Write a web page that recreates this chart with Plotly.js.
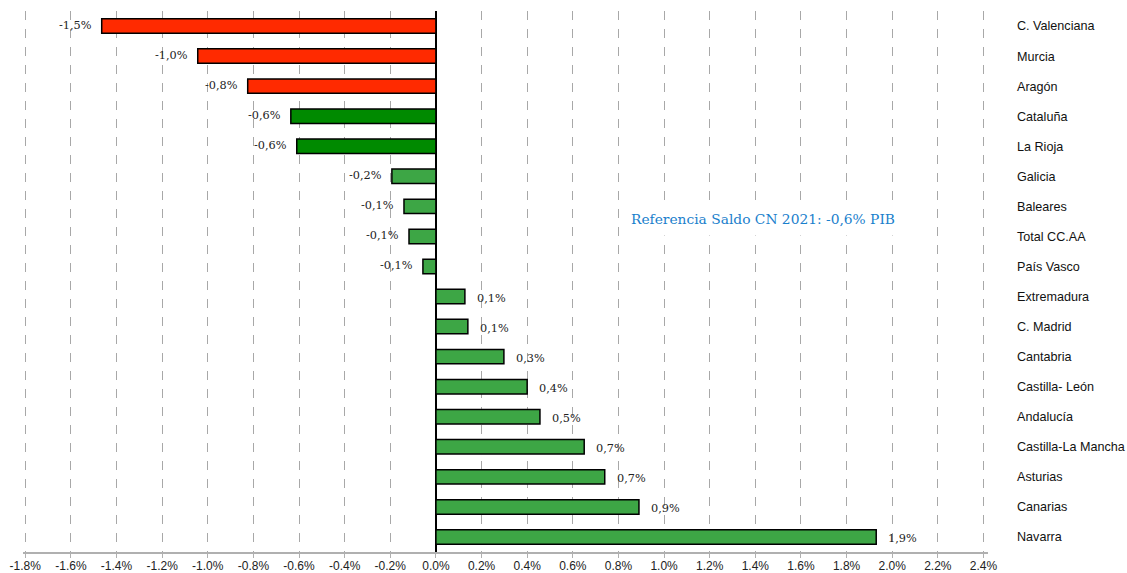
<!DOCTYPE html>
<html>
<head>
<meta charset="utf-8">
<script src="https://cdn.plot.ly/plotly-3.0.1.min.js"></script>
<style>
html,body{margin:0;padding:0;background:#fff;}
#chart{width:1127px;height:573px;}
</style>
</head>
<body>
<div id="chart"></div>
<script>
// ---- Data ----
const regions = ["C. Valenciana","Murcia","Aragón","Cataluña","La Rioja","Galicia","Baleares","Total CC.AA","País Vasco","Extremadura","C. Madrid","Cantabria","Castilla- León","Andalucía","Castilla-La Mancha","Asturias","Canarias","Navarra"];
const saldo = [-1.465,-1.044,-0.825,-0.636,-0.61,-0.193,-0.14,-0.118,-0.057,0.127,0.14,0.298,0.40,0.456,0.65,0.74,0.89,1.93];
const valueLabels = ["-1,5%","-1,0%","-0,8%","-0,6%","-0,6%","-0,2%","-0,1%","-0,1%","-0,1%","0,1%","0,1%","0,3%","0,4%","0,5%","0,7%","0,7%","0,9%","1,9%"];
const group = ["red","red","red","dark","dark","light","light","light","light","light","light","light","light","light","light","light","light","light"];
const xTickVals = [-1.8,-1.6,-1.4,-1.2,-1.0,-0.8,-0.6,-0.4,-0.2,0,0.2,0.4,0.6,0.8,1.0,1.2,1.4,1.6,1.8,2.0,2.2,2.4];
const xTickText = ["-1.8%","-1.6%","-1.4%","-1.2%","-1.0%","-0.8%","-0.6%","-0.4%","-0.2%","0.0%","0.2%","0.4%","0.6%","0.8%","1.0%","1.2%","1.4%","1.6%","1.8%","2.0%","2.2%","2.4%"];
const referenceNote = "Referencia Saldo CN 2021: -0,6% PIB";

// ---- Styles ----
const palette = {red:"#FF2A00", dark:"#008A00", light:"#3DA645"};
const barColors = group.map(g => palette[g]);

const trace = {
  type: "bar",
  orientation: "h",
  y: regions,
  x: saldo,
  marker: {color: barColors, line: {color: "#000", width: 1.5}},
  hoverinfo: "none"
};

const labelAnns = saldo.map((v, i) => ({
  x: v, y: regions[i], xref: "x", yref: "y",
  text: valueLabels[i], showarrow: false,
  xanchor: v < 0 ? "right" : "left",
  xshift: v < 0 ? -8 : 10,
  yshift: v < 0 ? 1 : -2,
  font: {family: "DejaVu Serif", size: 11.3, color: "#222"}
}));

const plotW = 1127 - 23 - 139, plotH = 573 - 11 - 21;
labelAnns.push({
  x: (763 - 23) / plotW, y: 1 - (219 - 11) / plotH,
  xref: "paper", yref: "paper",
  xanchor: "center", yanchor: "middle",
  text: referenceNote, showarrow: false,
  bgcolor: "#fff", borderpad: 8,
  font: {family: "DejaVu Serif", size: 13.8, color: "#1A80CC"}
});

const layout = {
  width: 1127, height: 573,
  margin: {l: 23, r: 139, t: 11, b: 21, pad: 0},
  paper_bgcolor: "#fff", plot_bgcolor: "#fff",
  showlegend: false,
  bargap: 0.52,
  xaxis: {
    range: [-1.81, 2.42],
    tickvals: xTickVals, ticktext: xTickText,
    showgrid: true, gridcolor: "#a8a8a8", griddash: "dash", gridwidth: 1,
    zeroline: true, zerolinecolor: "#000", zerolinewidth: 2,
    showline: true, linecolor: "#b0b0b0", linewidth: 1.5,
    ticks: "outside", ticklen: 4, tickcolor: "#b0b0b0", tickwidth: 1,
    ticklabelstandoff: -2,
    tickfont: {family: "Liberation Sans, Arial", size: 12, color: "#222"},
    fixedrange: true
  },
  yaxis: {
    type: "category",
    range: [17.5, -0.5],
    side: "right",
    showgrid: false, zeroline: false, showline: false,
    ticks: "",
    ticklabelstandoff: 28,
    tickfont: {family: "Liberation Sans, Arial", size: 12.6, color: "#111"},
    fixedrange: true
  },
  annotations: labelAnns
};

Plotly.newPlot("chart", [trace], layout, {displayModeBar: false, staticPlot: true});
</script>
</body>
</html>
